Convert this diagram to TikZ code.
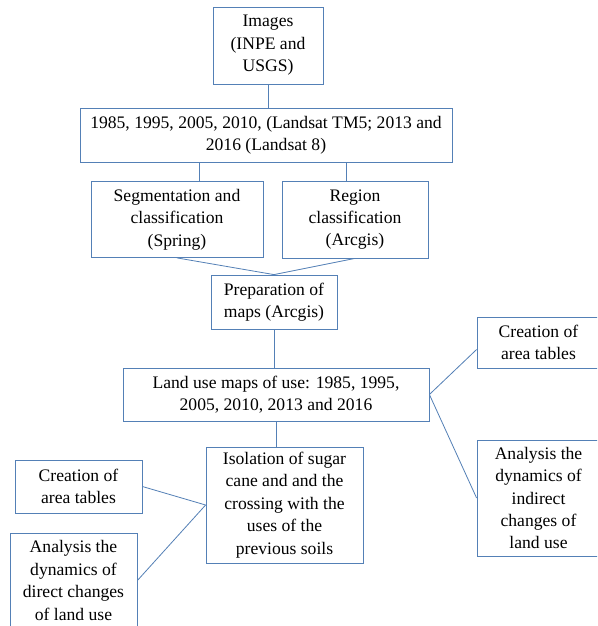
\documentclass[tikz,border=0pt]{standalone}
\usepackage{fontspec}
\setmainfont{Liberation Serif}
\usetikzlibrary{positioning}
\definecolor{boxblue}{RGB}{84,128,182}

\begin{document}
\begin{tikzpicture}[
      x=1pt, y=-1pt,
      box/.style={rectangle, draw=boxblue, line width=0.8pt, fill=white,
                  align=center, inner sep=0pt, font=\fontsize{17.6}{22.4}\selectfont},
      link/.style={draw=boxblue, line width=0.8pt}
    ]
    \clip (0,0) rectangle (597,626);
    \fill[white] (0,0) rectangle (597,626);

    \node[box, minimum width=110pt, minimum height=77pt] (images) at (268,45.5)
      {Images\\(INPE and\\USGS)};
    \node[box, minimum width=372pt, minimum height=54pt] (years) at (266,135)
      {1985, 1995, 2005, 2010, (Landsat TM5; 2013 and\\2016 (Landsat 8)};
    \node[box, minimum width=172pt, minimum height=76pt] (segment) at (177,219.5)
      {Segmentation and\\classification\\(Spring)};
    \node[box, minimum width=146pt, minimum height=77pt] (region) at (355,219.5)
      {Region\\classification\\(Arcgis)};
    \node[box, minimum width=126pt, minimum height=54pt] (prepare) at (274,302)
      {Preparation of\\maps (Arcgis)};
    \node[box, minimum width=306pt, minimum height=53pt] (landuse) at (276,394.5)
      {Land use maps of use: 1985, 1995,\\2005, 2010, 2013 and 2016};
    \node[box, minimum width=157pt, minimum height=116pt] (isolate) at (284.5,505)
      {Isolation of sugar\\cane and and the\\crossing with the\\uses of the\\previous soils};
    \node[box, minimum width=127pt, minimum height=53pt] (tableleft) at (78.5,486.5)
      {Creation of\\area tables};
    \node[box, minimum width=127pt, minimum height=95pt] (direct) at (73.5,580.5)
      {Analysis the\\dynamics of\\direct changes\\of land use};
    \node[box, minimum width=123pt, minimum height=51pt] (tableright) at (538.5,342.5)
      {Creation of\\area tables};
    \node[box, minimum width=123pt, minimum height=116pt] (indirect) at (538.5,498)
      {Analysis the\\dynamics of\\indirect\\changes of\\land use};

    \draw[link] (images.south) -- (images.south |- years.north);
    \draw[link] ([xshift=22pt]segment.north) -- ([xshift=22pt]segment.north |- years.south);
    \draw[link] ([xshift=-9pt]region.north) -- ([xshift=-9pt]region.north |- years.south);
    \draw[link] (segment.south) -- (prepare.north);
    \draw[link] (region.south) -- (prepare.north);
    \draw[link] (prepare.south) -- (prepare.south |- landuse.north);
    \draw[link] (landuse.south) -- (landuse.south |- isolate.north);
    \draw[link] (tableleft.east) -- (isolate.west);
    \draw[link] (direct.east) -- (isolate.west);
    \draw[link] (landuse.east) -- ([yshift=-7pt]tableright.west);
    \draw[link] (landuse.east) -- (indirect.west);
  \end{tikzpicture}
\end{document}
